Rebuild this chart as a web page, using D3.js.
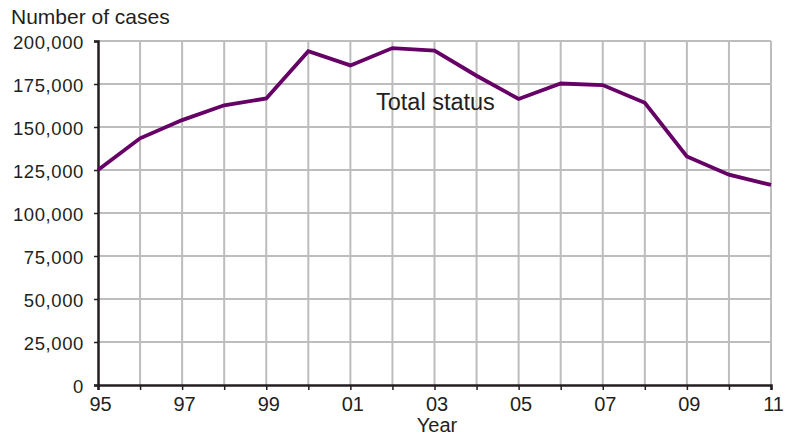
<!DOCTYPE html>
<html>
<head>
<meta charset="utf-8">
<script src="https://cdn.jsdelivr.net/npm/d3@7"></script>
<style>
  html, body { margin: 0; padding: 0; background: #fff; }
  svg { display: block; font-family: "Liberation Sans", Arial, Helvetica, sans-serif; }
</style>
</head>
<body>
<svg id="chart" width="790" height="436"></svg>
<script>
const years = [1995,1996,1997,1998,1999,2000,2001,2002,2003,2004,2005,2006,2007,2008,2009,2010,2011];
const cases = [125000,143400,154000,162600,166600,194000,185800,195900,194400,179800,166300,175300,174400,164100,132900,122300,116300];
const yTicks = [0,25000,50000,75000,100000,125000,150000,175000,200000];
const xTickYears = [1995,1997,1999,2001,2003,2005,2007,2009,2011];
const seriesLabel = "Total status";
const yTitle = "Number of cases";
const xTitle = "Year";

(function () {
const svg = d3.select("#chart");
const mLeft = 98, mRight = 771, mTop = 41, mBottom = 385;
const ink = "#231f20";
const ff = "'Liberation Sans', Arial, sans-serif";

const x = d3.scaleLinear().domain([1995, 2011]).range([mLeft, mRight]);
const y = d3.scaleLinear().domain([0, 200000]).range([mBottom, mTop]);

// grid
const grid = svg.append("g");
grid.selectAll("line.v").data(years.slice(1)).enter().append("line")
  .attr("x1", d => x(d)).attr("x2", d => x(d))
  .attr("y1", mTop).attr("y2", mBottom)
  .attr("stroke", "#bdbdbd").attr("stroke-width", 2);
grid.selectAll("line.h").data(yTicks.slice(1)).enter().append("line")
  .attr("x1", mLeft).attr("x2", mRight)
  .attr("y1", d => y(d)).attr("y2", d => y(d))
  .attr("stroke", "#bdbdbd").attr("stroke-width", 2);

// axes
const fmt = d3.format(",");
const yAxis = svg.append("g").attr("transform", `translate(${mLeft},0)`)
  .call(d3.axisLeft(y).tickValues(yTicks).tickFormat(fmt).tickSize(4).tickPadding(10));
const xAxis = svg.append("g").attr("transform", `translate(0,${mBottom})`)
  .call(d3.axisBottom(x).tickValues(years).tickSize(5).tickPadding(7)
    .tickFormat(d => xTickYears.includes(d) ? String(d).slice(2) : ""));

[yAxis, xAxis].forEach(a => {
  a.select(".domain").attr("stroke", ink).attr("stroke-width", 2.5);
  a.selectAll(".tick line").attr("stroke", ink).attr("stroke-width", 1.5);
  a.selectAll(".tick text").attr("fill", ink).attr("font-family", ff);
});
yAxis.selectAll(".tick text").attr("font-size", 18.5).attr("letter-spacing", "0.6px").attr("dy", "0.4em");
xAxis.selectAll(".tick text").attr("font-size", 20).attr("dx", "0.1em");

// line
const line = d3.line().x((d, i) => x(years[i])).y(d => y(d));
svg.append("path").datum(cases)
  .attr("d", line).attr("fill", "none")
  .attr("stroke", "#660066").attr("stroke-width", 3.8)
  .attr("stroke-linejoin", "miter");

// labels
svg.append("text").attr("x", 11).attr("y", 24).attr("font-size", 21).attr("fill", ink).text(yTitle);
svg.append("text").attr("x", 437).attr("y", 432).attr("text-anchor", "middle").attr("font-size", 20).attr("fill", ink).text(xTitle);
svg.append("text").attr("x", 376).attr("y", 110).attr("font-size", 23.5).attr("fill", ink).text(seriesLabel);
})();
</script>
</body>
</html>
